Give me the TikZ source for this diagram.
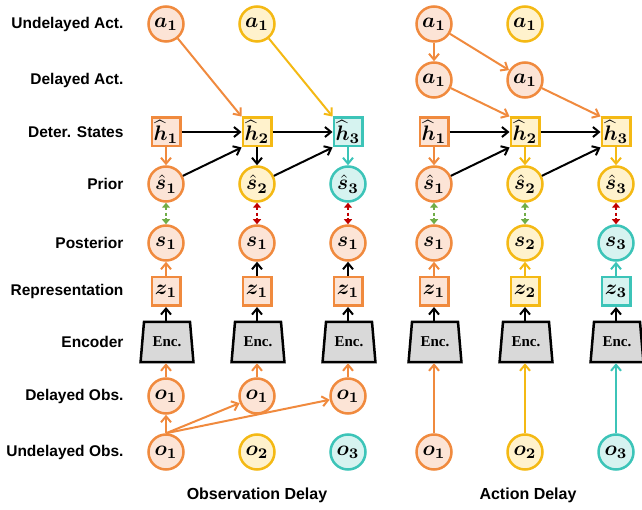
\documentclass[tikz,border=0pt]{standalone}
\usepackage{amsmath,bm,graphicx}
\usepackage{fontspec}
\setmainfont{Liberation Sans}
\newfontfamily\encfont{Liberation Serif}
\usetikzlibrary{shapes.geometric,arrows.meta}
\definecolor{orO}{HTML}{F08A3E}
\definecolor{orF}{HTML}{FCE4D6}
\definecolor{yeO}{HTML}{F4B914}
\definecolor{yeF}{HTML}{FFF2CC}
\definecolor{teO}{HTML}{3CC4B8}
\definecolor{teF}{HTML}{D6F3F0}
\definecolor{grA}{HTML}{70AD47}
\definecolor{reA}{HTML}{C00000}
\definecolor{encF}{HTML}{D9D9D9}
\newcommand{\mym}[1]{\scalebox{2.1}{$\bm{#1}$}}
\begin{document}
\begin{tikzpicture}[x=1pt,y=-1pt,
 circ/.style={circle, draw=#1O, fill=#1F, line width=2.5pt, minimum size=35pt, inner sep=0pt},
 sq/.style={rectangle, draw=#1O, fill=#1F, line width=2.5pt, minimum size=28.5pt, inner sep=0pt},
 enc/.style={trapezium, trapezium stretches=true, trapezium angle=78, draw=black, fill=encF, line width=2.5pt, minimum width=53pt, minimum height=40pt, inner sep=0pt, font=\encfont\bfseries\fontsize{15}{15}\selectfont},
 lab/.style={anchor=east, font=\bfseries\fontsize{15.5}{16}\selectfont},
 ttl/.style={font=\bfseries\fontsize{16}{16}\selectfont},
 arr/.style={line width=2pt, draw=#1, -{Straight Barb[length=6pt,width=10pt]}},
 dotarr/.style={line width=2.2pt, draw=#1, dash pattern=on 3pt off 2.2pt, {Triangle[length=5pt,width=8pt,fill=#1]}-{Triangle[length=5pt,width=8pt,fill=#1]}}
]
\useasboundingbox (0,0) rectangle (642,510);

% row labels
\node[lab] (l1) at (127,24) {Undelayed Act.};
\node[lab] (l2) at (127,80) {Delayed Act.};
\node[lab] (l3) at (127,132) {Deter. States};
\node[lab] (l4) at (127,184) {Prior};
\node[lab] (l5) at (127,243) {Posterior};
\node[lab] (l6) at (127,291.5) {Representation};
\node[lab] (l7) at (127,342) {Encoder};
\node[lab] (l8) at (127,396) {Delayed Obs.};
\node[lab] (l9) at (127,452) {Undelayed Obs.};
\node[ttl] (t1) at (257,495) {Observation Delay};
\node[ttl] (t2) at (528,495) {Action Delay};

% ---------- Observation delay ----------
\node[circ=or] (La1) at (166,24) {\mym{a_1}};
\node[circ=ye] (La1y) at (257,24) {\mym{a_1}};
\node[sq=or] (Lh1) at (166,132) {\mym{\widehat{h}_1}};
\node[sq=ye] (Lh2) at (257,132) {\mym{\widehat{h}_2}};
\node[sq=te] (Lh3) at (348,132) {\mym{\widehat{h}_3}};
\node[circ=or] (Lp1) at (166,184) {\mym{\hat{s}_1}};
\node[circ=ye] (Lp2) at (257,184) {\mym{\hat{s}_2}};
\node[circ=te] (Lp3) at (348,184) {\mym{\hat{s}_3}};
\node[circ=or] (Ls1) at (166,243) {\mym{s_1}};
\node[circ=or] (Ls2) at (257,243) {\mym{s_1}};
\node[circ=or] (Ls3) at (348,243) {\mym{s_1}};
\node[sq=or] (Lz1) at (166,291.5) {\mym{z_1}};
\node[sq=or] (Lz2) at (257,291.5) {\mym{z_1}};
\node[sq=or] (Lz3) at (348,291.5) {\mym{z_1}};
\node[enc] (Le1) at (167,342) {Enc.};
\node[enc] (Le2) at (258,342) {Enc.};
\node[enc] (Le3) at (349,342) {Enc.};
\node[circ=or] (Ld1) at (166,396) {\mym{o_1}};
\node[circ=or] (Ld2) at (257,396) {\mym{o_1}};
\node[circ=or] (Ld3) at (348,396) {\mym{o_1}};
\node[circ=or] (Lo1) at (166,452) {\mym{o_1}};
\node[circ=ye] (Lo2) at (257,452) {\mym{o_2}};
\node[circ=te] (Lo3) at (348,452) {\mym{o_3}};

\draw[arr=orO] (La1) -- (Lh2.north west);
\draw[arr=yeO] (La1y) -- (Lh3.north west);
\draw[arr=black] (Lh1) -- (Lh2);
\draw[arr=black] (Lh2) -- (Lh3);
\draw[arr=orO] (Lh1) -- (Lp1);
\draw[arr=black] (Lh2) -- (Lp2);
\draw[arr=teO] (Lh3) -- (Lp3);
\draw[arr=black] (Lp1) -- (Lh2.south west);
\draw[arr=black] (Lp2) -- (Lh3.south west);
\draw[dotarr=grA] (Lp1) -- (Ls1);
\draw[dotarr=reA] (Lp2) -- (Ls2);
\draw[dotarr=reA] (Lp3) -- (Ls3);
\draw[arr=orO] (Lz1) -- (Ls1);
\draw[arr=black] (Lz2) -- (Ls2);
\draw[arr=black] (Lz3) -- (Ls3);
\draw[arr=black] (Le1.north -| Lz1) -- (Lz1);
\draw[arr=black] (Le2.north -| Lz2) -- (Lz2);
\draw[arr=black] (Le3.north -| Lz3) -- (Lz3);
\draw[arr=orO] (Ld1) -- (Le1.south -| Ld1);
\draw[arr=orO] (Ld2) -- (Le2.south -| Ld2);
\draw[arr=orO] (Ld3) -- (Le3.south -| Ld3);
\draw[arr=orO] (Lo1) -- (Ld1);
\draw[arr=orO] (Lo1.north) -- (Ld2);
\draw[arr=orO] (Lo1.north) -- (Ld3);

% ---------- Action delay ----------
\node[circ=or] (Ra1) at (434,24) {\mym{a_1}};
\node[circ=ye] (Ra1y) at (525,24) {\mym{a_1}};
\node[circ=or] (Rd1) at (434,80) {\mym{a_1}};
\node[circ=or] (Rd2) at (525,80) {\mym{a_1}};
\node[sq=or] (Rh1) at (434,132) {\mym{\widehat{h}_1}};
\node[sq=ye] (Rh2) at (525,132) {\mym{\widehat{h}_2}};
\node[sq=ye] (Rh3) at (616,132) {\mym{\widehat{h}_3}};
\node[circ=or] (Rp1) at (434,184) {\mym{\hat{s}_1}};
\node[circ=ye] (Rp2) at (525,184) {\mym{\hat{s}_2}};
\node[circ=ye] (Rp3) at (616,184) {\mym{\hat{s}_3}};
\node[circ=or] (Rs1) at (434,243) {\mym{s_1}};
\node[circ=ye] (Rs2) at (525,243) {\mym{s_2}};
\node[circ=te] (Rs3) at (616,243) {\mym{s_3}};
\node[sq=or] (Rz1) at (434,291.5) {\mym{z_1}};
\node[sq=ye] (Rz2) at (525,291.5) {\mym{z_2}};
\node[sq=te] (Rz3) at (616,291.5) {\mym{z_3}};
\node[enc] (Re1) at (435,342) {Enc.};
\node[enc] (Re2) at (526,342) {Enc.};
\node[enc] (Re3) at (617,342) {Enc.};
\node[circ=or] (Ro1) at (434,452) {\mym{o_1}};
\node[circ=ye] (Ro2) at (525,452) {\mym{o_2}};
\node[circ=te] (Ro3) at (616,452) {\mym{o_3}};

\draw[arr=orO] (Ra1) -- (Rd1);
\draw[arr=orO] (Ra1) -- (Rd2);
\draw[arr=orO] (Rd1) -- (Rh2.north west);
\draw[arr=orO] (Rd2) -- (Rh3.north west);
\draw[arr=black] (Rh1) -- (Rh2);
\draw[arr=black] (Rh2) -- (Rh3);
\draw[arr=orO] (Rh1) -- (Rp1);
\draw[arr=yeO] (Rh2) -- (Rp2);
\draw[arr=yeO] (Rh3) -- (Rp3);
\draw[arr=black] (Rp1) -- (Rh2.south west);
\draw[arr=black] (Rp2) -- (Rh3.south west);
\draw[dotarr=grA] (Rp1) -- (Rs1);
\draw[dotarr=grA] (Rp2) -- (Rs2);
\draw[dotarr=reA] (Rp3) -- (Rs3);
\draw[arr=orO] (Rz1) -- (Rs1);
\draw[arr=yeO] (Rz2) -- (Rs2);
\draw[arr=teO] (Rz3) -- (Rs3);
\draw[arr=black] (Re1.north -| Rz1) -- (Rz1);
\draw[arr=black] (Re2.north -| Rz2) -- (Rz2);
\draw[arr=black] (Re3.north -| Rz3) -- (Rz3);
\draw[arr=orO] (Ro1) -- (Re1.south -| Ro1);
\draw[arr=yeO] (Ro2) -- (Re2.south -| Ro2);
\draw[arr=teO] (Ro3) -- (Re3.south -| Ro3);
\end{tikzpicture}
\end{document}
